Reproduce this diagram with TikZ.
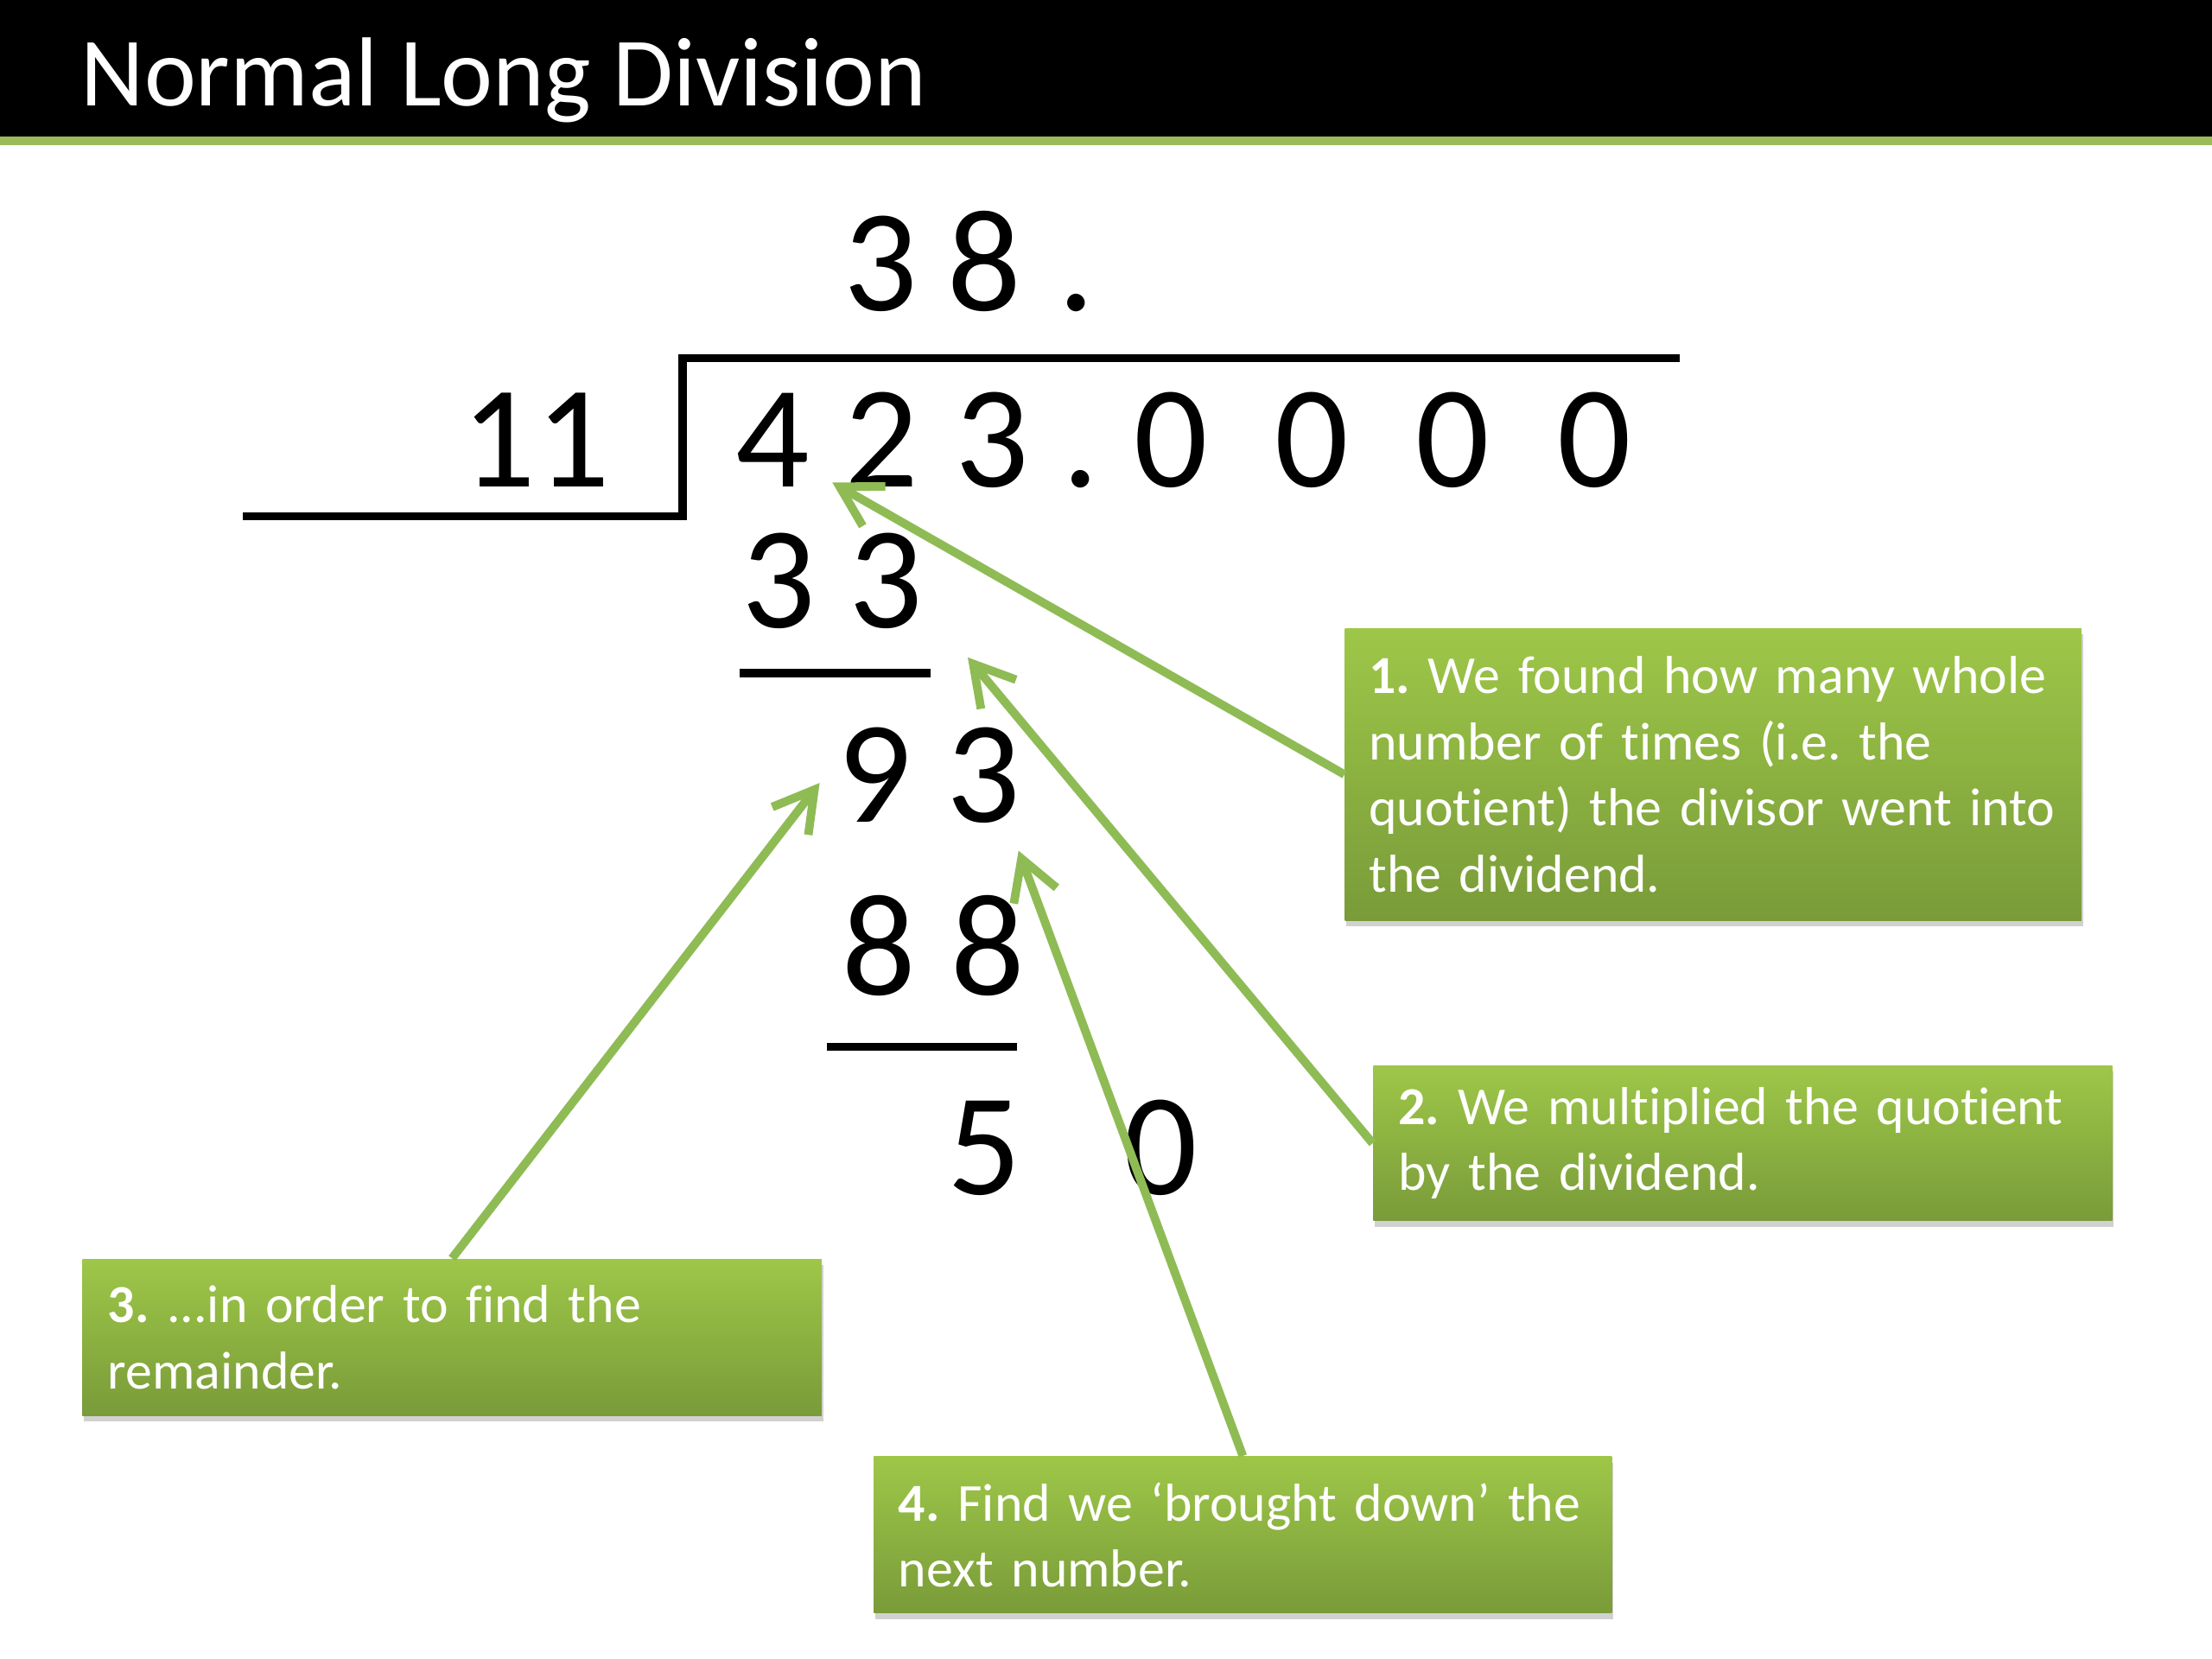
\documentclass[tikz,border=0pt]{standalone}
\usepackage{fontspec}
\setmainfont{Carlito}[Ligatures=NoCommon]
\usetikzlibrary{arrows.meta,shadows}

\definecolor{olivebar}{RGB}{155,187,89}
\definecolor{boxtop}{RGB}{158,199,72}
\definecolor{boxbot}{RGB}{121,155,57}
\definecolor{arrowgreen}{RGB}{143,187,85}
\newcommand{\noteline}[1]{\mbox{#1}}

\begin{document}
\frenchspacing
\begin{tikzpicture}[x=0.016327cm,y=-0.016327cm,
  digit/.style={anchor=base,inner sep=0pt,font=\fontsize{48}{58}\selectfont},
  note/.style={anchor=north west,inner xsep=7.9pt,inner ysep=0pt,
    top color=boxtop,bottom color=boxbot,draw=none,text=white,
    align=left,text width=226.7pt,
    font=\fontsize{17.6}{21.8}\selectfont,
    drop shadow={opacity=0.18,shadow xshift=0.5pt,shadow yshift=-2pt,fill=black}},
  pointer/.style={draw=arrowgreen,line width=2.8pt,
    -{Straight Barb[length=13pt,width=15pt]}},
  rulestroke/.style={line width=2.7pt,line cap=rect}
]
\useasboundingbox (0,0) rectangle (1568,1176);
\fill[white] (0,0) rectangle (1568,1176);

% title bar
\fill[black] (0,0) rectangle (1568,97);
\fill[olivebar] (0,97) rectangle (1568,103);
\node[anchor=base west,inner sep=0pt,text=white,font=\fontsize{32.3}{38}\selectfont] (title) at (57,75) {Normal Long Division};

% quotient
\node[digit] (q1) at (624,220) {3};
\node[digit] (q2) at (698,220) {8};
\node[digit] (q3) at (763,220) {.};

% divisor
\node[digit] (dv) at (380,345) {11};

% dividend
\node[digit] (d1) at (548,345) {4};
\node[digit] (d2) at (625,345) {2};
\node[digit] (d3) at (703,345) {3};
\node[digit] (d4) at (766,345) {.};
\node[digit] (d5) at (830,345) {0};
\node[digit] (d6) at (930,345) {0};
\node[digit] (d7) at (1030,345) {0};
\node[digit] (d8) at (1130,345) {0};

% working
\node[digit] (s1) at (552,445) {3};
\node[digit] (s2) at (628,445) {3};
\node[digit] (r1) at (620,583) {9};
\node[digit] (r2) at (697,583) {3};
\node[digit] (m1) at (623,705) {8};
\node[digit] (m2) at (700,705) {8};
\node[digit] (f1) at (698,847) {5};
\node[digit] (f2) at (823,847) {0};

% division bracket and rules
\draw[rulestroke] (1188,254) -- (484,254) -- (484,366) -- (175,366);
\draw[rulestroke] (527,477) -- (657,477);
\draw[rulestroke] (589,742) -- (718,742);

% notes
\node[note,minimum width=242.5pt,minimum height=96.2pt] (n1) at (953,445)
  {\noteline{\textbf{1.} We found how many whole}\\\noteline{number of times (i.e. the}\\\noteline{quotient) the divisor went into}\\\noteline{the dividend.}};
\node[note,minimum width=243.4pt,minimum height=51.1pt] (n2) at (973,755)
  {\noteline{\textbf{2.} We multiplied the quotient}\\\noteline{by the dividend.}};
\node[note,minimum width=243.4pt,minimum height=51.6pt] (n3) at (58,892)
  {\noteline{\textbf{3.} ...in order to find the}\\\noteline{remainder.}};
\node[note,minimum width=243pt,minimum height=51.6pt] (n4) at (619,1032)
  {\noteline{\textbf{4.} Find we ‘brought down’ the}\\\noteline{next number.}};

% arrow tips
\coordinate (t1) at (590,342);
\coordinate (t2) at (686,466);
\coordinate (t3) at (581,555);
\coordinate (t4) at (722,603);

\draw[pointer] (n1.west) -- (t1);
\draw[pointer] (n2.west) -- (t2);
\draw[pointer] (n3.north) -- (t3);
\draw[pointer] (n4.north) -- (t4);
\end{tikzpicture}
\end{document}
